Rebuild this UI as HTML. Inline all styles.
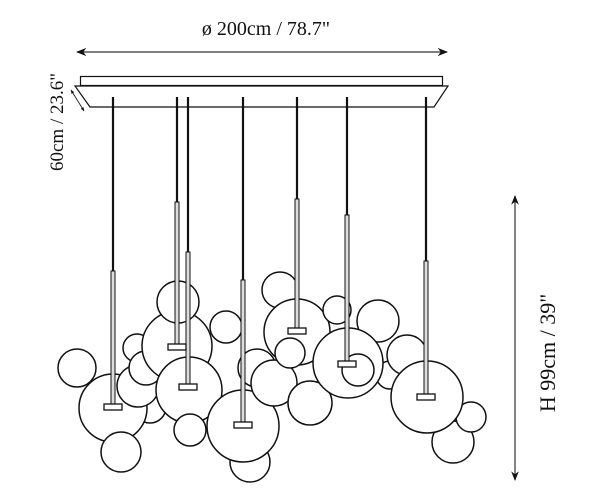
<!DOCTYPE html>
<html><head><meta charset="utf-8"><style>
html,body{margin:0;padding:0;background:#fff;width:600px;height:500px;overflow:hidden}
svg{display:block}
text{font-family:"Liberation Serif",serif;fill:#111}
</style></head><body>
<svg width="600" height="500" viewBox="0 0 600 500" xmlns="http://www.w3.org/2000/svg">
<defs>
<marker id="a" viewBox="0 0 10 10" refX="9" refY="5" markerWidth="8" markerHeight="8" orient="auto-start-reverse"><path d="M0,1 L10,5 L0,9 L3,5 z" fill="#111"/></marker>
<marker id="s" viewBox="0 0 10 10" refX="9" refY="5" markerWidth="5" markerHeight="5" orient="auto-start-reverse"><path d="M0,1 L10,5 L0,9 z" fill="#111"/></marker>
</defs>
<text x="266" y="35" font-size="20" text-anchor="middle">ø 200cm / 78.7"</text>
<line x1="77" y1="52" x2="447" y2="52" stroke="#333" stroke-width="1.3" marker-start="url(#a)" marker-end="url(#a)"/>
<rect x="80.5" y="76.5" width="362" height="9" fill="#fff" stroke="#111" stroke-width="1.2"/>
<path d="M75,86 L448,86 L434,107 L90,107 Z" fill="#fff" stroke="#111" stroke-width="1.2"/>
<line x1="71" y1="90" x2="84" y2="111" stroke="#111" stroke-width="0.8" marker-start="url(#s)" marker-end="url(#s)"/>
<text transform="translate(63,122) rotate(-90)" font-size="19" text-anchor="middle">60cm / 23.6"</text>
<line x1="515" y1="196" x2="515" y2="480" stroke="#333" stroke-width="1.2" marker-start="url(#a)" marker-end="url(#a)"/>
<text transform="translate(555,353) rotate(-90)" font-size="22" text-anchor="middle">H 99cm / 39"</text>
<g fill="#fff" stroke="#111" stroke-width="1.5">
<circle cx="77" cy="368" r="19"/>
<circle cx="150" cy="407" r="16"/>
<circle cx="137" cy="348" r="14"/>
<circle cx="113" cy="408" r="34"/>
<circle cx="121" cy="452" r="20"/>
<circle cx="138" cy="386" r="21"/>
<circle cx="146" cy="368" r="17"/>
<circle cx="177" cy="346" r="35"/>
<circle cx="178" cy="302" r="21"/>
<circle cx="189" cy="390" r="33"/>
<circle cx="190" cy="430" r="16"/>
<circle cx="226" cy="327" r="16"/>
<circle cx="250" cy="462" r="20"/>
<circle cx="257" cy="368" r="19"/>
<circle cx="243" cy="426" r="36"/>
<circle cx="274" cy="383" r="23"/>
<circle cx="280" cy="290" r="18"/>
<circle cx="297" cy="332" r="33"/>
<circle cx="290" cy="353" r="15"/>
<circle cx="310" cy="403" r="22"/>
<circle cx="337" cy="310" r="14"/>
<circle cx="378" cy="321" r="21"/>
<circle cx="390" cy="375" r="14"/>
<circle cx="348" cy="363" r="35"/>
<circle cx="358" cy="370" r="16"/>
<circle cx="407" cy="355" r="20"/>
<circle cx="453" cy="442" r="21"/>
<circle cx="471" cy="417" r="15"/>
<circle cx="427" cy="397" r="36"/>
</g>
<g stroke="#111">
<line x1="113" y1="97" x2="113" y2="272" stroke-width="2.2"/>
<line x1="177" y1="97" x2="177" y2="203" stroke-width="2.2"/>
<line x1="188" y1="97" x2="188" y2="253" stroke-width="2.2"/>
<line x1="243" y1="97" x2="243" y2="281" stroke-width="2.2"/>
<line x1="297" y1="97" x2="297" y2="200" stroke-width="2.2"/>
<line x1="347" y1="97" x2="347" y2="216" stroke-width="2.2"/>
<line x1="426" y1="97" x2="426" y2="262" stroke-width="2.2"/>
</g>
<g fill="#ddd" stroke="#111" stroke-width="1">
<rect x="111" y="271" width="4" height="136"/>
<rect x="175" y="202" width="4" height="144"/>
<rect x="186" y="252" width="4" height="134"/>
<rect x="241" y="280" width="4" height="144"/>
<rect x="295" y="199" width="4" height="130"/>
<rect x="345" y="215" width="4" height="147"/>
<rect x="424" y="261" width="4" height="134"/>
</g>
<g fill="#fff" stroke="#111" stroke-width="1.3">
<rect x="104" y="404" width="18" height="6"/>
<rect x="168" y="344" width="18" height="6"/>
<rect x="179" y="384" width="18" height="6"/>
<rect x="234" y="422" width="18" height="6"/>
<rect x="288" y="328" width="18" height="6"/>
<rect x="338" y="361" width="18" height="6"/>
<rect x="417" y="394" width="18" height="6"/>
</g>
</svg>
</body></html>
